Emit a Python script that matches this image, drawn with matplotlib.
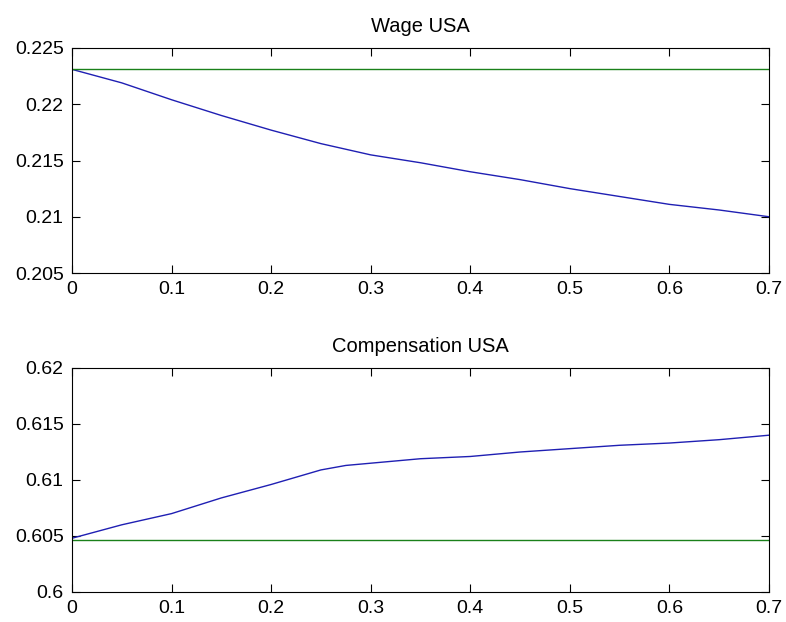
import matplotlib
matplotlib.use("Agg")
import matplotlib.pyplot as plt

plt.rcParams['font.family'] = ['Liberation Sans', 'DejaVu Sans']

# Data
x = [0.0, 0.05, 0.10, 0.15, 0.20, 0.25, 0.275, 0.30, 0.35, 0.40, 0.45, 0.50, 0.55, 0.60, 0.65, 0.70]
wage = [0.2231, 0.2219, 0.2204, 0.2190, 0.2177, 0.2165, 0.2160, 0.2155, 0.2148, 0.2140, 0.2133,
        0.2125, 0.2118, 0.2111, 0.2106, 0.2100]
wage_base = 0.2231
comp = [0.6048, 0.6060, 0.6070, 0.6084, 0.6096, 0.6109, 0.6113, 0.6115, 0.6119, 0.6121, 0.6125,
        0.6128, 0.6131, 0.6133, 0.6136, 0.6140]
comp_base = 0.6046

xticks = [0, 0.1, 0.2, 0.3, 0.4, 0.5, 0.6, 0.7]
xticklabels = ["0", "0.1", "0.2", "0.3", "0.4", "0.5", "0.6", "0.7"]
wage_yticks = [0.205, 0.21, 0.215, 0.22, 0.225]
wage_yticklabels = ["0.205", "0.21", "0.215", "0.22", "0.225"]
comp_yticks = [0.6, 0.605, 0.61, 0.615, 0.62]
comp_yticklabels = ["0.6", "0.605", "0.61", "0.615", "0.62"]

fig = plt.figure(figsize=(7.86, 6.22), dpi=100)
ax1 = fig.add_axes([72/786, 1-273/622, (769-72)/786, (273-48)/622])
ax2 = fig.add_axes([72/786, 1-592/622, (769-72)/786, (592-368)/622])

blue = (0.12, 0.12, 0.70)
green = (0.1, 0.5, 0.1)

def style(ax, yticks, ylabels, title):
    ax.set_xlim(0, 0.7)
    ax.set_ylim(yticks[0], yticks[-1])
    ax.set_xticks(xticks)
    ax.set_xticklabels(xticklabels)
    ax.set_yticks(yticks)
    ax.set_yticklabels(ylabels)
    ax.tick_params(direction='in', top=True, right=True, length=6, width=0.8,
                   labelsize=14, pad=6)
    for s in ax.spines.values():
        s.set_linewidth(0.8)
    ax.set_title(title, fontsize=14.5, pad=11.5)

ax1.plot(x, wage, color=blue, lw=1.0)
ax1.plot([x[0], x[-1]], [wage_base, wage_base], color=green, lw=1.0)
style(ax1, wage_yticks, wage_yticklabels, "Wage USA")

ax2.plot(x, comp, color=blue, lw=1.0)
ax2.plot([x[0], x[-1]], [comp_base, comp_base], color=green, lw=1.0)
style(ax2, comp_yticks, comp_yticklabels, "Compensation USA")

fig.savefig("out.png", dpi=100)
